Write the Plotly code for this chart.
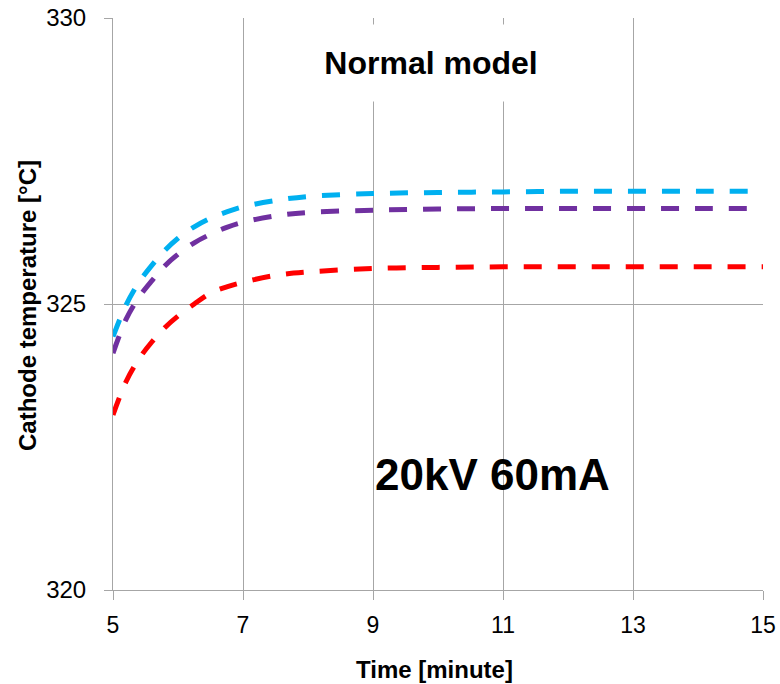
import plotly.graph_objects as go

# Data
time_min = [5, 5.2, 5.4, 5.6, 5.8, 6, 6.25, 6.5, 6.75, 7, 7.5, 8, 9, 10, 11, 12, 13, 14, 15]
temp_blue = [324.43, 324.98, 325.38, 325.68, 325.94, 326.15, 326.35, 326.50, 326.61, 326.70,
             326.81, 326.88, 326.93, 326.95, 326.96, 326.97, 326.97, 326.97, 326.97]
temp_purple = [324.14, 324.73, 325.12, 325.41, 325.67, 325.87, 326.07, 326.22, 326.34, 326.43,
               326.54, 326.60, 326.64, 326.66, 326.67, 326.67, 326.67, 326.67, 326.67]
temp_red = [323.06, 323.64, 324.04, 324.34, 324.59, 324.79, 325.00, 325.19, 325.30, 325.38,
            325.50, 325.56, 325.62, 325.64, 325.65, 325.65, 325.65, 325.65, 325.65]

x_ticks = [5, 7, 9, 11, 13, 15]
y_ticks = [320, 325, 330]

GRID = "#A6A6A6"
SANS = "Liberation Sans, Arial, sans-serif"

fig = go.Figure()
for y, c in [(temp_blue, "#00B0F0"), (temp_purple, "#7030A0"), (temp_red, "#FF0000")]:
    fig.add_trace(go.Scatter(x=time_min, y=y, mode="lines",
                             line=dict(color=c, width=5, dash="18px,16px", shape="spline"),
                             showlegend=False, hoverinfo="skip"))

fig.update_layout(
    width=780, height=684,
    margin=dict(l=113, r=17, t=18, b=94, autoexpand=False),
    paper_bgcolor="white", plot_bgcolor="white",
    xaxis=dict(range=[5, 15], tickvals=x_ticks, showgrid=True, gridcolor=GRID, gridwidth=1,
               showline=True, linecolor=GRID, linewidth=1, ticks="outside", ticklen=9,
               tickcolor=GRID, tickfont=dict(family=SANS, size=23, color="black"),
               ticklabelstandoff=5, zeroline=False, automargin=False),
    yaxis=dict(range=[320, 330], tickvals=y_ticks, showgrid=True, gridcolor=GRID, gridwidth=1,
               showline=True, linecolor=GRID, linewidth=1, ticks="outside", ticklen=8,
               tickcolor=GRID, tickfont=dict(family=SANS, size=24, color="black"),
               ticklabelstandoff=13, zeroline=False, automargin=False),
    annotations=[
        dict(text="<b>Normal model</b>", xref="paper", yref="paper", x=(431 - 113) / 650,
             y=(590 - 63) / 572, xanchor="center", yanchor="middle", showarrow=False,
             font=dict(family=SANS, size=32, color="black"), bgcolor="white",
             width=330, height=76, borderpad=0),
        dict(text="<b>20kV 60mA</b>", xref="paper", yref="paper", x=(492 - 113) / 650,
             y=(590 - 474) / 572, xanchor="center", yanchor="middle", showarrow=False,
             font=dict(family=SANS, size=44, color="black")),
        dict(text="<b>Time [minute]</b>", xref="paper", yref="paper", x=(434 - 113) / 650,
             y=(590 - 669) / 572, xanchor="center", yanchor="middle", showarrow=False,
             font=dict(family=SANS, size=24, color="black")),
        dict(text="<b>Cathode temperature [°C]</b>", xref="paper", yref="paper",
             x=(27 - 113) / 650, y=(590 - 305) / 572, xanchor="center", yanchor="middle",
             showarrow=False, textangle=-90, font=dict(family=SANS, size=24, color="black")),
    ],
)

fig.write_html("out.html")
